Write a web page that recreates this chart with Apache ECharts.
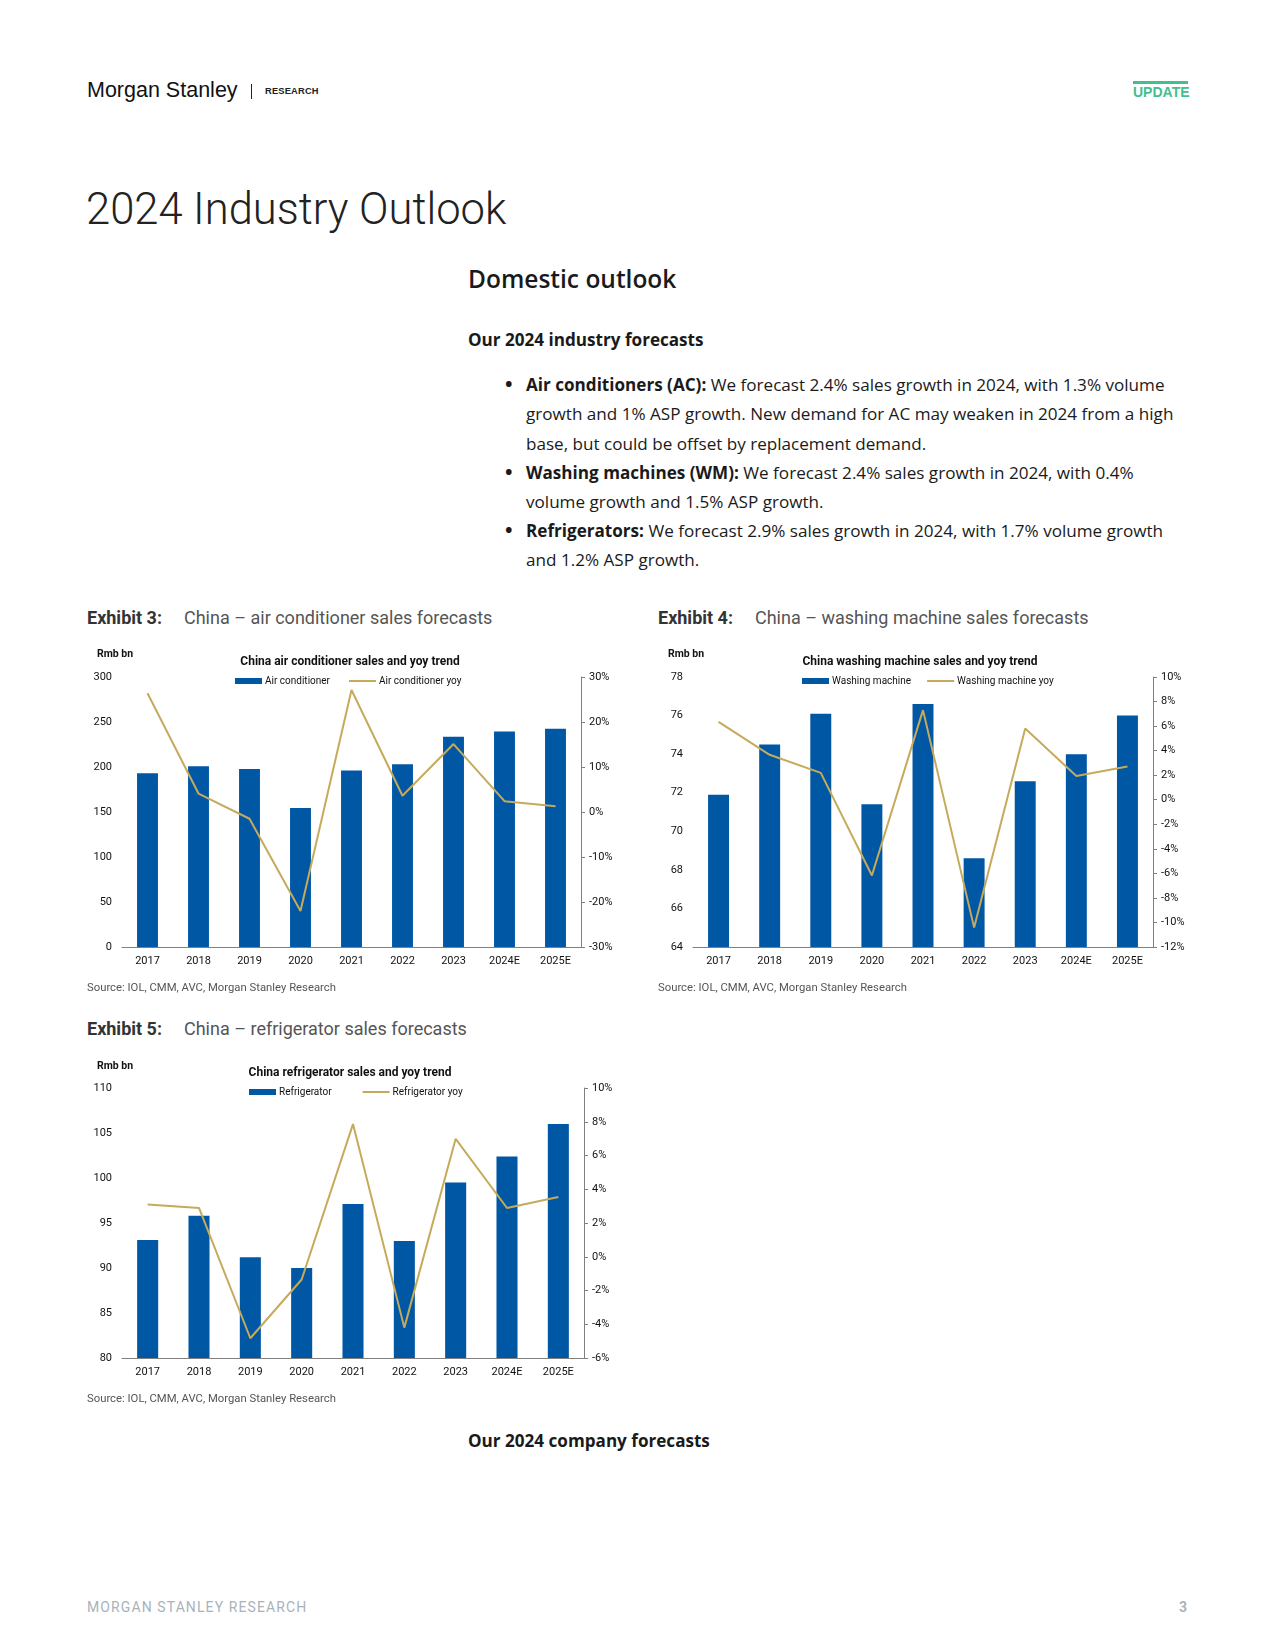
<!DOCTYPE html>
<html>
<head>
<meta charset="utf-8">
<script src="https://cdn.jsdelivr.net/npm/echarts@6/dist/echarts.min.js"></script>
<style>
  html, body { margin: 0; padding: 0; background: #fff; }
  body { width: 1275px; height: 1650px; position: relative; overflow: hidden; color: #1a1a1a; }
  .abs { position: absolute; white-space: nowrap; }
  .chart { position: absolute; }
  .exh { font-family: Roboto, sans-serif; font-size: 18px; line-height: 22px; }
  .exh b { color: #333; font-weight: 700; }
  .exh span { color: #555; margin-left: 22px; font-weight: 400; }
  .src { font-family: Roboto, sans-serif; font-size: 11.3px; line-height: 14px; color: #555; }
  .body { font-family: 'Open Sans', sans-serif; font-size: 17.1px; line-height: 20px; color: #1a1a1a; }
  .body b { font-weight: 700; }
  .bul { font-family: 'Open Sans', sans-serif; font-weight: 700; font-size: 20px; line-height: 20px; color: #1a1a1a; }
</style>
</head>
<body>
<!-- header -->
<div class="abs" style="left:87px; top:78px; font-family:'Liberation Sans Narrow',sans-serif; font-size:21.5px; line-height:24px; color:#111;">Morgan Stanley</div>
<div class="abs" style="left:251px; top:84px; width:1px; height:15px; background:#222;"></div>
<div class="abs" style="left:265px; top:86px; font-family:'Liberation Sans Narrow',sans-serif; font-weight:700; font-size:9.3px; line-height:11px; color:#222; letter-spacing:0.2px;">RESEARCH</div>
<div class="abs" style="left:1133px; top:81px; width:55px; height:3px; background:#41bf8c;"></div>
<div class="abs" style="left:1133px; top:84px; width:55px; text-align:center; font-family:'Liberation Sans Narrow',sans-serif; font-weight:700; font-size:14px; line-height:16px; color:#41bf8c;">UPDATE</div>

<div class="abs" style="left:86px; top:184px; font-family:Roboto,sans-serif; font-weight:300; font-size:43.5px; line-height:52px; color:#222;">2024 Industry Outlook</div>

<div class="abs" style="left:468px; top:264px; font-family:'Open Sans',sans-serif; font-weight:600; font-size:24.5px; line-height:30px; color:#1a1a1a;">Domestic outlook</div>
<div class="abs body" style="left:468px; top:330px;"><b>Our 2024 industry forecasts</b></div>

<div class="abs bul" style="left:505px; top:374px;">•</div>
<div class="abs body" style="left:526px; top:375px;"><b>Air conditioners (AC):</b> We forecast 2.4% sales growth in 2024, with 1.3% volume</div>
<div class="abs body" style="left:526px; top:404px;">growth and 1% ASP growth. New demand for AC may weaken in 2024 from a high</div>
<div class="abs body" style="left:526px; top:433.5px;">base, but could be offset by replacement demand.</div>
<div class="abs bul" style="left:505px; top:462px;">•</div>
<div class="abs body" style="left:526px; top:463px;"><b>Washing machines (WM):</b> We forecast 2.4% sales growth in 2024, with 0.4%</div>
<div class="abs body" style="left:526px; top:492px;">volume growth and 1.5% ASP growth.</div>
<div class="abs bul" style="left:505px; top:520px;">•</div>
<div class="abs body" style="left:526px; top:521px;"><b>Refrigerators:</b> We forecast 2.9% sales growth in 2024, with 1.7% volume growth</div>
<div class="abs body" style="left:526px; top:550px;">and 1.2% ASP growth.</div>

<!-- exhibits -->
<div class="abs exh" style="left:87px; top:607px;"><b>Exhibit 3:</b><span>China – air conditioner sales forecasts</span></div>
<div class="abs exh" style="left:658px; top:607px;"><b>Exhibit 4:</b><span>China – washing machine sales forecasts</span></div>
<div class="abs exh" style="left:87px; top:1018px;"><b>Exhibit 5:</b><span>China – refrigerator sales forecasts</span></div>

<div id="c1" class="chart" style="left:80px; top:630px; width:540px; height:370px;"></div>
<div id="c2" class="chart" style="left:650px; top:630px; width:540px; height:370px;"></div>
<div id="c3" class="chart" style="left:80px; top:1040px; width:540px; height:370px;"></div>

<div class="abs src" style="left:87px; top:981px;">Source: IOL, CMM, AVC, Morgan Stanley Research</div>
<div class="abs src" style="left:658px; top:981px;">Source: IOL, CMM, AVC, Morgan Stanley Research</div>
<div class="abs src" style="left:87px; top:1392px;">Source: IOL, CMM, AVC, Morgan Stanley Research</div>

<div class="abs body" style="left:468px; top:1431px;"><b>Our 2024 company forecasts</b></div>

<!-- footer -->
<div class="abs" style="left:87px; top:1599px; font-family:Roboto,sans-serif; font-size:14px; line-height:17px; color:#a9b2bb; letter-spacing:1.1px;">MORGAN STANLEY RESEARCH</div>
<div class="abs" style="left:1179px; top:1599px; font-family:Roboto,sans-serif; font-weight:700; font-size:14px; line-height:17px; color:#a9b2bb;">3</div>

<script>
const categories = ['2017', '2018', '2019', '2020', '2021', '2022', '2023', '2024E', '2025E'];

const acSales = [193.1, 200.9, 197.9, 154.5, 196.0, 203.1, 233.5, 239.5, 242.5];
const acYoy   = [26.4, 4.1, -1.5, -22.0, 27.1, 3.6, 15.1, 2.4, 1.3];

const wmSales = [71.9, 74.5, 76.1, 71.4, 76.6, 68.6, 72.6, 74.0, 76.0];
const wmYoy   = [6.35, 3.66, 2.19, -6.17, 7.3, -10.42, 5.81, 1.94, 2.70];

const frSales = [93.1, 95.8, 91.2, 90.0, 97.1, 93.0, 99.5, 102.4, 106.0];
const frYoy   = [3.09, 2.89, -4.83, -1.35, 7.86, -4.2, 6.99, 2.89, 3.54];

// axis ranges: [min, max, interval]
const acLeftAxis = [0, 300, 50];
const acRightAxis = [-30, 30, 10];
const wmLeftAxis = [64, 78, 2];
const wmRightAxis = [-12, 10, 2];
const frLeftAxis = [80, 110, 5];
const frRightAxis = [-6, 10, 2];

const BLUE = '#0057a4';
const GOLD = '#c6aa5c';
const NARROW = "'Liberation Sans Narrow', 'Roboto', sans-serif";

function makeOption(cfg) {
  return {
    animation: false,
    textStyle: { fontFamily: NARROW },
    title: [
      { text: cfg.title, left: 'center', top: cfg.titleTop,
        textStyle: { fontFamily: NARROW, fontWeight: 'bold', fontSize: 12, color: '#111' } },
      { text: 'Rmb bn', left: cfg.rmbLeft, top: cfg.rmbTop,
        textStyle: { fontFamily: NARROW, fontWeight: 'bold', fontSize: 10.5, color: '#111' } }
    ],
    legend: {
      left: cfg.legendLeft, top: cfg.legendTop,
      itemWidth: 27, itemHeight: 6, itemGap: cfg.legendGap,
      textStyle: { fontFamily: NARROW, fontSize: 10, color: '#111', padding: [0, 0, 0, -2] },
      data: [
        { name: cfg.barName, icon: 'rect' },
        { name: cfg.lineName, itemStyle: { opacity: 0, borderWidth: 0 } }
      ]
    },
    grid: { left: cfg.gridLeft, right: cfg.gridRight, top: cfg.gridTop, bottom: cfg.gridBottom },
    xAxis: {
      type: 'category', data: categories,
      axisLine: { show: true, onZero: false, lineStyle: { color: '#808080', width: 1 } },
      axisTick: { show: false },
      axisLabel: { fontFamily: NARROW, fontSize: 11, color: '#111', margin: 9 }
    },
    yAxis: [
      {
        type: 'value', min: cfg.left[0], max: cfg.left[1], interval: cfg.left[2],
        axisLine: { show: false }, axisTick: { show: false }, splitLine: { show: false },
        axisLabel: { fontFamily: NARROW, fontSize: 11, color: '#111', margin: 10 }
      },
      {
        type: 'value', min: cfg.right[0], max: cfg.right[1], interval: cfg.right[2],
        position: 'right',
        axisLine: { show: true, onZero: false, lineStyle: { color: '#808080', width: 1 } },
        axisTick: { show: true, length: 4, inside: false, lineStyle: { color: '#808080' } },
        splitLine: { show: false },
        axisLabel: { fontFamily: NARROW, fontSize: 11, color: '#111', margin: 8, formatter: '{value}%' }
      }
    ],
    series: [
      { name: cfg.barName, type: 'bar', data: cfg.bars, barWidth: '41%',
        itemStyle: { color: BLUE } },
      { name: cfg.lineName, type: 'line', yAxisIndex: 1, data: cfg.line,
        symbol: 'none', showSymbol: false,
        lineStyle: { color: GOLD, width: 2 }, itemStyle: { color: GOLD } }
    ]
  };
}

const c1 = echarts.init(document.getElementById('c1'));
c1.setOption(makeOption({
  title: 'China air conditioner sales and yoy trend', titleTop: 21,
  rmbLeft: 12, rmbTop: 14,
  legendLeft: 150, legendTop: 41, legendGap: 18,
  barName: 'Air conditioner', lineName: 'Air conditioner yoy',
  gridLeft: 42, gridRight: 39, gridTop: 47, gridBottom: 53,
  left: acLeftAxis, right: acRightAxis, bars: acSales, line: acYoy
}));

const c2 = echarts.init(document.getElementById('c2'));
c2.setOption(makeOption({
  title: 'China washing machine sales and yoy trend', titleTop: 21,
  rmbLeft: 13, rmbTop: 14,
  legendLeft: 147, legendTop: 41, legendGap: 15,
  barName: 'Washing machine', lineName: 'Washing machine yoy',
  gridLeft: 43, gridRight: 37, gridTop: 47, gridBottom: 53,
  left: wmLeftAxis, right: wmRightAxis, bars: wmSales, line: wmYoy
}));

const c3 = echarts.init(document.getElementById('c3'));
c3.setOption(makeOption({
  title: 'China refrigerator sales and yoy trend', titleTop: 22,
  rmbLeft: 12, rmbTop: 16,
  legendLeft: 164, legendTop: 42, legendGap: 30,
  barName: 'Refrigerator', lineName: 'Refrigerator yoy',
  gridLeft: 42, gridRight: 36, gridTop: 48, gridBottom: 52,
  left: frLeftAxis, right: frRightAxis, bars: frSales, line: frYoy
}));
</script>
</body>
</html>
